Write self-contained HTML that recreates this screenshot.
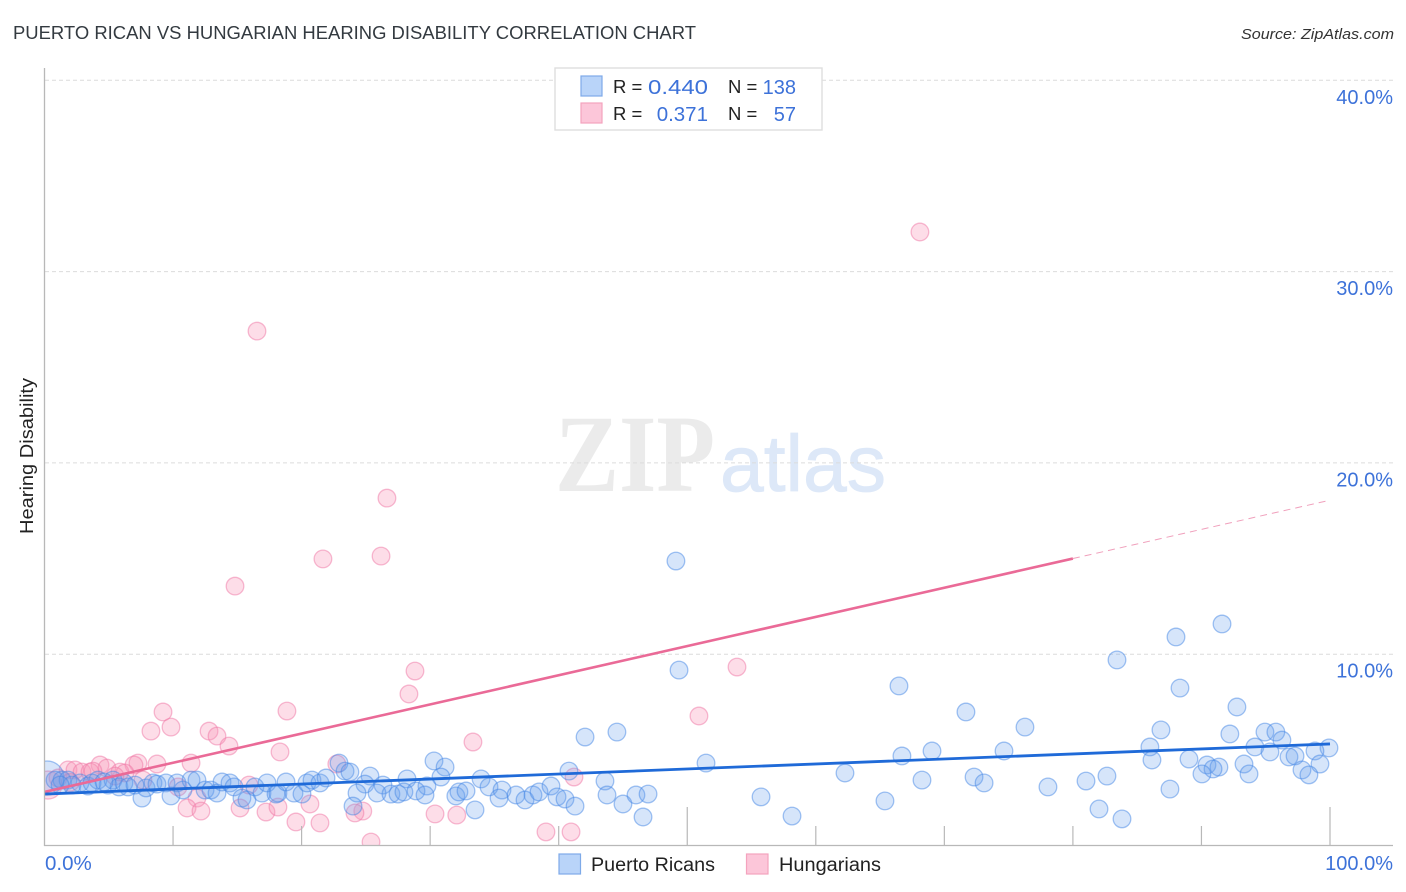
<!DOCTYPE html>
<html lang="en">
<head>
<meta charset="utf-8">
<title>Puerto Rican vs Hungarian Hearing Disability Correlation Chart</title>
<style>
html,body{margin:0;padding:0;background:#fff;}
body{width:1406px;height:892px;overflow:hidden;}
svg{display:block;font-family:"Liberation Sans",sans-serif;}
</style>
</head>
<body>
<svg id="chart" width="1406" height="892" viewBox="0 0 1406 892" xmlns="http://www.w3.org/2000/svg">
  <text x="13" y="39" font-size="18.5" fill="#333a40" textLength="683" lengthAdjust="spacingAndGlyphs">PUERTO RICAN VS HUNGARIAN HEARING DISABILITY CORRELATION CHART</text>
  <text x="1241" y="39" font-size="15" font-style="italic" fill="#333" textLength="153" lengthAdjust="spacingAndGlyphs">Source: ZipAtlas.com</text>
  <g>
    <text x="555" y="491" font-family="'Liberation Serif',serif" font-weight="bold" font-size="110" fill="#ebebeb" textLength="160" lengthAdjust="spacingAndGlyphs">ZIP</text>
    <text x="720" y="491" font-size="80" fill="#dde8f8" stroke="#dde8f8" stroke-width="0.8" textLength="166" lengthAdjust="spacingAndGlyphs">atlas</text>
  </g>
  <g id="grid"></g>
  <g id="pink-points"></g>
  <g id="blue-points"></g>
  <rect x="0" y="700" width="45" height="192" fill="#fff"/>
  <rect x="0" y="846" width="1406" height="46" fill="#fff"/>
  <g id="trends"></g>
  <g id="axes">
    <line x1="44.5" y1="68" x2="44.5" y2="846" stroke="#b8b8b8" stroke-width="1.3"/>
    <line x1="44" y1="845.5" x2="1393" y2="845.5" stroke="#b8b8b8" stroke-width="1.3"/>
  </g>
  <g id="ticks"></g>
  <text transform="translate(33,456) rotate(-90)" font-size="18" fill="#222" text-anchor="middle" textLength="156" lengthAdjust="spacingAndGlyphs">Hearing Disability</text>
  <g>
    <rect x="555" y="68" width="267" height="62" fill="#fff" stroke="#dedede" stroke-width="1.4"/>
    <rect x="581" y="76" width="21" height="20" fill="#b9d4f9" stroke="#7eaae8" stroke-width="1.2"/>
    <rect x="581" y="103" width="21" height="20" fill="#fcc6d9" stroke="#f4a3be" stroke-width="1.2"/>
    <text x="613" y="93" font-size="18.5" fill="#222">R =</text>
    <text x="648" y="94" font-size="20.5" fill="#3d72d9" textLength="60" lengthAdjust="spacingAndGlyphs">0.440</text>
    <text x="728" y="93" font-size="18.5" fill="#222">N =</text>
    <text x="796" y="94" font-size="20" fill="#3d72d9" text-anchor="end">138</text>
    <text x="613" y="120" font-size="18.5" fill="#222">R =</text>
    <text x="708" y="121" font-size="20.5" fill="#3d72d9" text-anchor="end">0.371</text>
    <text x="728" y="120" font-size="18.5" fill="#222">N =</text>
    <text x="796" y="121" font-size="20" fill="#3d72d9" text-anchor="end">57</text>
  </g>
  <g>
    <rect x="559" y="854" width="21.5" height="20" fill="#b9d4f9" stroke="#7eaae8" stroke-width="1.2"/>
    <text x="591" y="871" font-size="19" fill="#222" textLength="124" lengthAdjust="spacingAndGlyphs">Puerto Ricans</text>
    <rect x="746.5" y="854" width="21.5" height="20" fill="#fcc6d9" stroke="#f4a3be" stroke-width="1.2"/>
    <text x="779" y="871" font-size="19" fill="#222" textLength="102" lengthAdjust="spacingAndGlyphs">Hungarians</text>
  </g>
</svg>
<script>
const xTickValues = [10, 20, 30, 40, 50, 60, 70, 80, 90, 100];
const yTickValues = [10, 20, 30, 40];
const xEndLabels = ["0.0%", "100.0%"];
const yTickLabels = ["10.0%", "20.0%", "30.0%", "40.0%"];

const puertoRicanX = [0.20,0.82,1.36,1.83,2.76,3.38,4.16,4.94,5.33,5.80,6.50,7.58,7.90,8.44,8.75,9.45,9.84,10.31,10.77,11.40,11.86,12.49,12.95,13.42,13.81,14.43,14.74,15.36,15.75,16.37,16.92,17.31,18.01,18.16,18.79,19.41,20.03,20.42,20.81,21.43,21.90,22.91,23.38,2.14,3.70,4.63,6.18,7.04,1.21,
  42.05,44.53,30.30,31.16,30.84,28.20,29.75,25.32,24.93,26.33,24.31,25.87,26.95,27.50,27.96,28.90,29.60,33.96,34.58,35.59,35.36,36.68,37.38,38.00,38.47,39.40,39.87,40.49,41.27,40.80,43.60,43.76,45.00,46.01,46.95,46.56,33.49,32.00,32.24,32.79,24.00,23.76,
  66.47,71.68,76.27,69.04,66.70,74.64,51.46,62.27,68.26,72.31,73.09,78.06,65.38,55.74,58.15,49.12,49.36,
  91.60,88.02,83.43,88.33,92.76,86.85,92.21,94.94,95.79,96.26,85.99,94.16,95.33,99.92,98.83,96.81,97.28,86.15,89.03,93.31,99.22,90.43,91.36,90.90,90.04,93.70,97.82,98.36,82.65,81.02,87.55,82.03,83.82];
const puertoRicanY = [3.53,3.42,3.42,3.42,3.27,3.11,3.42,3.16,3.42,3.06,3.06,2.48,3.01,3.27,3.21,3.27,2.59,3.27,2.90,3.42,3.42,2.90,2.90,2.74,3.32,3.27,3.06,2.48,2.38,3.06,2.74,3.27,2.69,2.74,3.32,2.74,2.69,3.27,3.42,3.27,3.53,4.31,3.89,3.16,3.27,3.32,3.27,3.16,3.16,
  5.67,5.93,4.42,4.10,3.58,3.48,3.11,3.63,3.21,3.16,2.74,2.74,2.69,2.69,2.80,2.85,2.64,3.48,3.06,2.90,2.48,2.64,2.38,2.64,2.80,3.11,2.54,2.43,2.06,3.89,3.37,2.64,2.17,2.64,2.69,1.49,1.86,2.59,2.80,2.85,2.06,3.84,
  8.34,6.98,6.19,4.94,4.68,4.94,4.31,3.79,3.42,3.58,3.27,3.06,2.33,2.54,1.54,14.87,9.17,
  11.58,10.90,9.70,8.23,7.24,6.04,5.83,5.93,5.93,5.51,5.15,5.15,4.89,5.10,4.94,4.63,4.68,4.47,4.52,4.26,4.26,4.21,4.10,4.00,3.74,3.74,3.95,3.69,3.63,3.37,2.95,1.91,1.39];

const hungarianX = [68.10,16.53,26.64,26.18,21.66,14.82,28.82,28.35,53.87,50.91,18.86,9.22,9.84,8.28,12.80,13.42,14.35,18.32,33.33,11.40,8.75,7.27,6.96,4.32,4.86,1.83,2.37,2.92,3.54,3.77,5.87,6.26,7.66,0.27,1.05,10.39,15.91,11.86,11.09,12.17,15.21,17.23,18.16,20.65,19.56,21.43,22.74,24.76,24.15,30.38,32.07,25.40,39.01,40.96,41.19,5.48,2.00];
const hungarianY = [32.07,26.89,18.16,15.13,14.98,13.56,9.12,7.92,9.33,6.77,7.03,6.98,6.19,5.98,5.98,5.72,5.20,4.89,5.41,4.31,4.26,4.31,4.21,4.21,4.05,3.95,3.95,3.84,3.84,3.89,3.84,3.79,3.42,3.16,3.53,3.06,3.16,2.48,1.96,1.80,1.96,1.75,2.01,2.17,1.23,1.18,4.26,1.80,1.70,1.65,1.59,0.18,0.71,0.71,3.58,3.63,3.30];

const puertoRicanTrend = [2.69, 5.31];
const hungarianTrend = [2.8, 18.05];
const trendSolidEnd = 80;

const SVG_NS = "http://www.w3.org/2000/svg";
const xScale = function (v) { return 44.5 + v * 12.855; };
const yScale = function (v) { return 845.5 - v * 19.13; };
const grid = document.getElementById("grid");
const ticks = document.getElementById("ticks");
const trends = document.getElementById("trends");
const bluePoints = document.getElementById("blue-points");
const pinkPoints = document.getElementById("pink-points");

function makeEl(parent, tag, attrs) {
  const el = document.createElementNS(SVG_NS, tag);
  Object.keys(attrs).forEach(function (k) { el.setAttribute(k, attrs[k]); });
  parent.appendChild(el);
  return el;
}

yTickValues.forEach(function (v, i) {
  const line = makeEl(grid, "line", {x1: 45, x2: 1393, y1: yScale(v), y2: yScale(v), stroke: "#dcdcdc", "stroke-width": 1, "stroke-dasharray": "4 3"});
  
  
  const label = makeEl(ticks, "text", {x: 1393, y: yScale(v) + 23.5, "font-size": 20, fill: "#3d72d9", "text-anchor": "end"});
  label.textContent = yTickLabels[i];
  
  
});

xTickValues.forEach(function (v) {
  const top = v % 50 === 0 ? 807 : 826;
  const tick = makeEl(ticks, "line", {x1: xScale(v), x2: xScale(v), y1: top, y2: 845.5, stroke: "#b8b8b8", "stroke-width": 1.2});
  
  
});

const xLabelStart = makeEl(ticks, "text", {x: 45, y: 870, "font-size": 20.5, fill: "#3d72d9"});
xLabelStart.textContent = xEndLabels[0];


const xLabelEnd = makeEl(ticks, "text", {x: 1393, y: 870, "font-size": 20, fill: "#3d72d9", "text-anchor": "end"});
xLabelEnd.textContent = xEndLabels[1];



hungarianX.forEach(function (v, i) {
  const dot = makeEl(pinkPoints, "circle", {cx: xScale(v), cy: yScale(hungarianY[i]), r: i === 33 ? 14 : 8.8, fill: "rgba(248,150,185,0.32)", stroke: "rgba(240,120,165,0.5)", "stroke-width": 1.3});
  
  
});

puertoRicanX.forEach(function (v, i) {
  const dot = makeEl(bluePoints, "circle", {cx: xScale(v), cy: yScale(puertoRicanY[i]), r: i === 0 ? 17 : 8.8, fill: "rgba(105,160,235,0.27)", stroke: "rgba(70,135,230,0.5)", "stroke-width": 1.3});
  
  
});

function trendAt(trend, x) { return trend[0] + (trend[1] - trend[0]) * x / 100; }

const pinkSolid = makeEl(trends, "line", {x1: xScale(0), y1: yScale(trendAt(hungarianTrend, 0)), x2: xScale(trendSolidEnd), y2: yScale(trendAt(hungarianTrend, trendSolidEnd)), stroke: "#ea6a97", "stroke-width": 2.6});


const pinkDashed = makeEl(trends, "line", {x1: xScale(trendSolidEnd), y1: yScale(trendAt(hungarianTrend, trendSolidEnd)), x2: xScale(100), y2: yScale(trendAt(hungarianTrend, 100)), stroke: "#f0a0bc", "stroke-width": 1, "stroke-dasharray": "7 5"});


const blueSolid = makeEl(trends, "line", {x1: xScale(0), y1: yScale(trendAt(puertoRicanTrend, 0)), x2: xScale(100), y2: yScale(trendAt(puertoRicanTrend, 100)), stroke: "#1f6ad8", "stroke-width": 2.8});


</script>
</body>
</html>
